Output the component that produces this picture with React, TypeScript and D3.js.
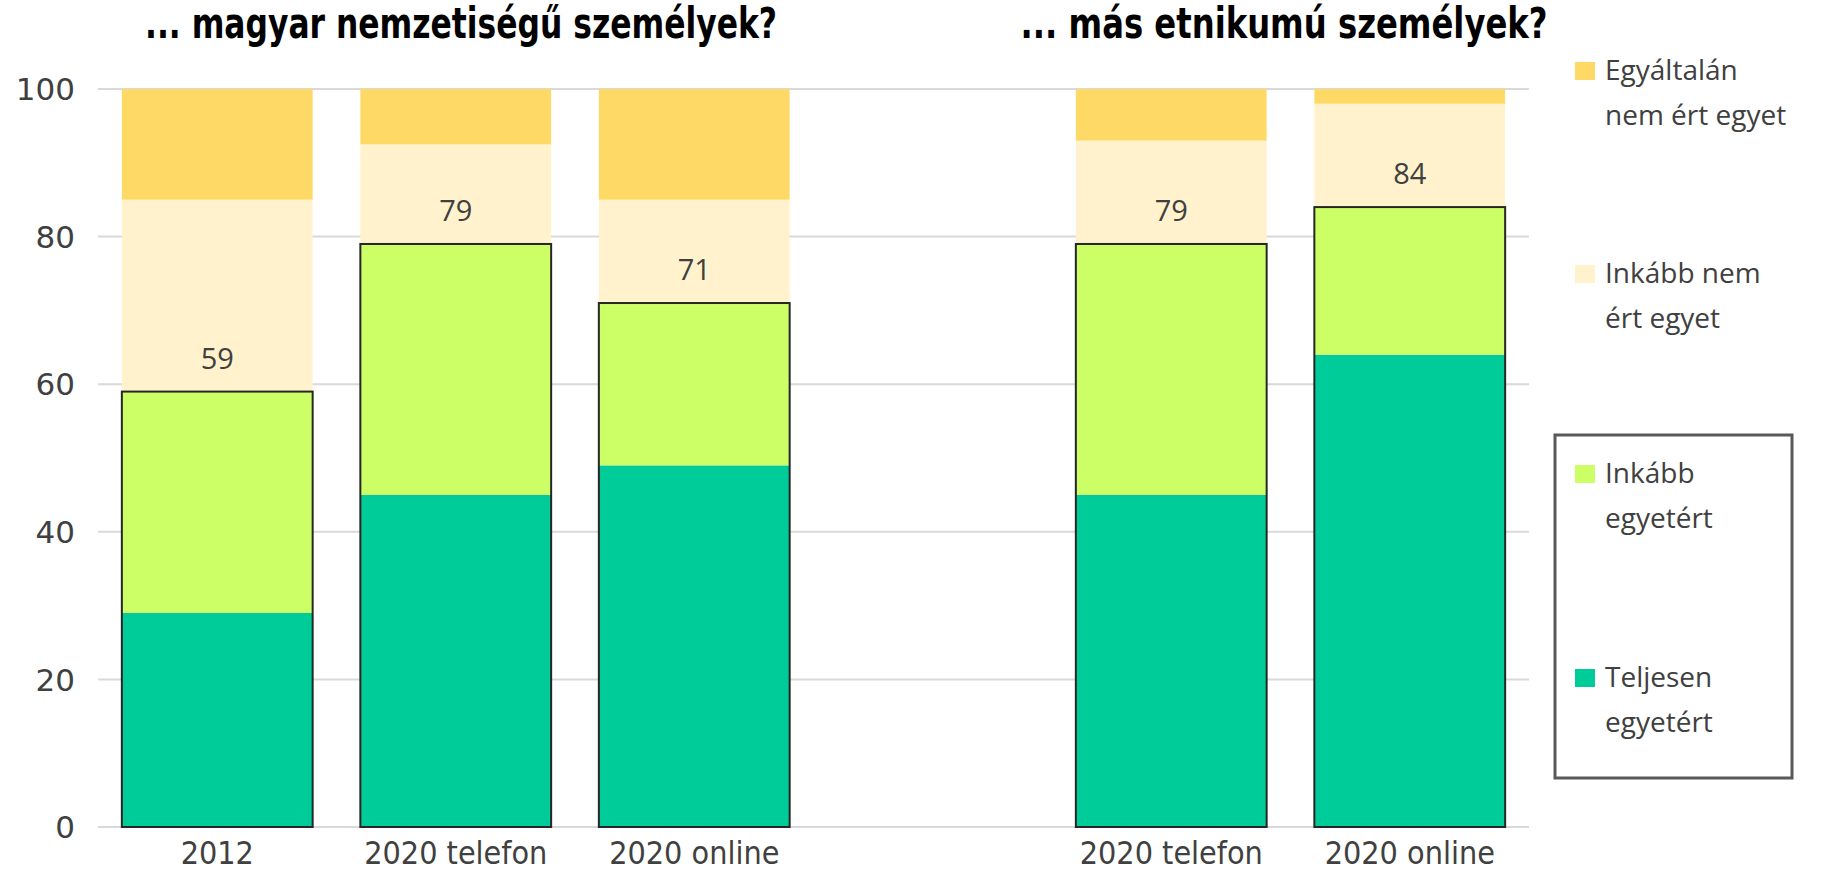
import React from "react";
import * as d3 from "d3";

const categories = [
  { id: "m2012", label: "2012" },
  { id: "mTel", label: "2020 telefon" },
  { id: "mOn", label: "2020 online" },
  { id: "gap", label: "" },
  { id: "eTel", label: "2020 telefon" },
  { id: "eOn", label: "2020 online" },
];
const barIds = ["m2012", "mTel", "mOn", "eTel", "eOn"];
const teljesen = [29, 45, 49, 45, 64];
const inkabbEgyet = [30, 34, 22, 34, 20];
const inkabbNem = [26, 13.5, 14, 14, 14];
const egyaltalan = [15, 7.5, 15, 7, 2];
const agreeLabels = [59, 79, 71, 79, 84];
const yTicks = [0, 20, 40, 60, 80, 100];

const seriesNames = ["Teljesen egyetért", "Inkább egyetért", "Inkább nem ért egyet", "Egyáltalán nem ért egyet"];
const seriesColors = ["#00CC99", "#CCFF66", "#FFF2CC", "#FFD966"];
const legendLines = [
  ["Egyáltalán", "nem ért egyet"],
  ["Inkább nem", "ért egyet"],
  ["Inkább", "egyetért"],
  ["Teljesen", "egyetért"],
];
const legendColors = ["#FFD966", "#FFF2CC", "#CCFF66", "#00CC99"];
const titles = ["... magyar nemzetiségű személyek?", "... más etnikumú személyek?"];

const NARROW = "'Liberation Sans Narrow', 'DejaVu Sans Condensed', 'Roboto Condensed', 'Arial Narrow', sans-serif";

export default function App() {
  const W = 1824, H = 874;
  const x0 = 98, x1 = 1529, yTop = 89, yBot = 827;
  const x = d3.scaleBand<string>().domain(categories.map(c => c.id)).range([x0, x1]).paddingInner(0.2).paddingOuter(0.1);
  const y = d3.scaleLinear().domain([0, 100]).range([yBot, yTop]);

  const rows = barIds.map((id, i) => ({
    id,
    s0: teljesen[i],
    s1: inkabbEgyet[i],
    s2: inkabbNem[i],
    s3: egyaltalan[i],
  }));
  const stack = d3.stack<any>().keys(["s0", "s1", "s2", "s3"])(rows);

  return (
    <svg width={W} height={H} style={{ position: "absolute", left: 0, top: 0, background: "#fff" }}>
      {yTicks.map(t => (
        <g key={t}>
          <line x1={x0} x2={x1} y1={y(t)} y2={y(t)} stroke="#d9d9d9" strokeWidth={2} />
          <text x={75} y={y(t)} dy="0.36em" textAnchor="end" fontFamily="'DejaVu Sans', sans-serif" fontSize={31} fill="#404040">{t}</text>
        </g>
      ))}
      {stack.map((layer, li) => (
        <g key={li} fill={seriesColors[li]}>
          {layer.map((d, i) => (
            <rect key={i} x={x(barIds[i])} width={x.bandwidth()} y={y(d[1])} height={y(d[0]) - y(d[1])} />
          ))}
        </g>
      ))}
      {barIds.map((id, i) => (
        <rect key={id} x={x(id)} width={x.bandwidth()} y={y(teljesen[i] + inkabbEgyet[i])} height={y(0) - y(teljesen[i] + inkabbEgyet[i])} fill="none" stroke="#262626" strokeWidth={2} />
      ))}
      {barIds.map((id, i) => (
        <text key={id} x={(x(id) as number) + x.bandwidth() / 2} y={y(teljesen[i] + inkabbEgyet[i]) - 23} textAnchor="middle" fontFamily="'Open Sans', sans-serif" fontSize={29} fill="#404040">{agreeLabels[i]}</text>
      ))}
      {categories.filter(c => c.label).map(c => (
        <text key={c.id} x={(x(c.id) as number) + x.bandwidth() / 2} y={864} textAnchor="middle" fontFamily={NARROW} fontSize={32} fill="#404040">{c.label}</text>
      ))}
      <text x={461} y={38} textAnchor="middle" fontFamily={NARROW} fontWeight="bold" fontSize={42} fill="#000" textLength={632} lengthAdjust="spacingAndGlyphs">{titles[0]}</text>
      <text x={1284} y={38} textAnchor="middle" fontFamily={NARROW} fontWeight="bold" fontSize={42} fill="#000" textLength={527} lengthAdjust="spacingAndGlyphs">{titles[1]}</text>
      <rect x={1555} y={435} width={237} height={343} fill="none" stroke="#595959" strokeWidth={3} />
      {legendLines.map((lines, i) => {
        const base = [80, 283, 483, 687][i];
        return (
          <g key={i}>
            <rect x={1575} y={base - 18} width={20} height={18} fill={legendColors[i]} />
            <text x={1605} y={base} fontFamily="'Open Sans', sans-serif" fontSize={28} fill="#404040">{lines[0]}</text>
            <text x={1605} y={base + 44.5} fontFamily="'Open Sans', sans-serif" fontSize={28} fill="#404040">{lines[1]}</text>
          </g>
        );
      })}
    </svg>
  );
}
